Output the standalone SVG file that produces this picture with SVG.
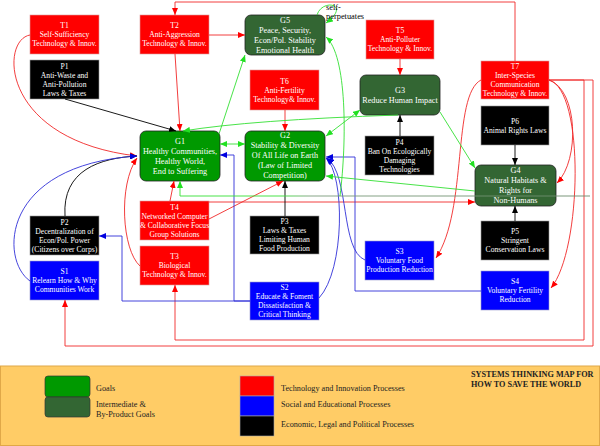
<svg xmlns="http://www.w3.org/2000/svg" width="600" height="446" viewBox="0 0 600 446">
<style>
.n text{font-family:"Liberation Serif","Times New Roman",serif;font-size:7.6px;fill:#fff;text-anchor:middle}
.g text{font-size:8.2px}
.red{fill:#FF0000;stroke:#d99;stroke-width:0.6}
.blk{fill:#000;stroke:#999;stroke-width:0.6}
.blu{fill:#0000FF;stroke:#99c;stroke-width:0.6}
.gr{fill:#009900;stroke:#222;stroke-width:0.8}
.dg{fill:#336633;stroke:#222;stroke-width:0.8}
#conn path{fill:none;stroke-width:0.9}
.cr{stroke:#F02828;marker-end:url(#mr)}
.cb{stroke:#3030D8;marker-end:url(#mb)}
.ck{stroke:#000;marker-end:url(#mk)}
.cg{stroke:#33E033;marker-end:url(#mg)}
.lt{font-family:"Liberation Serif","Times New Roman",serif;font-size:8.2px;fill:#222}
</style>
<defs>
<marker id="mr" viewBox="0 0 7 6" refX="7" refY="3" markerWidth="7" markerHeight="6" markerUnits="userSpaceOnUse" orient="auto-start-reverse"><path d="M0,0 L7,3 L0,6 z" fill="#F00"/></marker>
<marker id="mb" viewBox="0 0 7 6" refX="7" refY="3" markerWidth="7" markerHeight="6" markerUnits="userSpaceOnUse" orient="auto-start-reverse"><path d="M0,0 L7,3 L0,6 z" fill="#0000E0"/></marker>
<marker id="mk" viewBox="0 0 7 6" refX="7" refY="3" markerWidth="7" markerHeight="6" markerUnits="userSpaceOnUse" orient="auto-start-reverse"><path d="M0,0 L7,3 L0,6 z" fill="#000"/></marker>
<marker id="mg" viewBox="0 0 7 6" refX="7" refY="3" markerWidth="7" markerHeight="6" markerUnits="userSpaceOnUse" orient="auto-start-reverse"><path d="M0,0 L7,3 L0,6 z" fill="#22E022"/></marker>
<linearGradient id="gline" gradientUnits="userSpaceOnUse" x1="180" y1="0" x2="590" y2="0">
<stop offset="0" stop-color="#33E033"/><stop offset="0.25" stop-color="#33E033"/><stop offset="0.32" stop-color="#7A9A7A"/><stop offset="1" stop-color="#6A8A6A"/>
</linearGradient>
</defs>
<rect width="600" height="446" fill="#fff"/>

<g id="T1" class="n"><rect class="red" x="30" y="15" width="69" height="39"/><text x="64.5" y="28.2">T1</text><text x="64.5" y="37.2">Self-Sufficiency</text><text x="64.5" y="46.2">Technology &amp; Innov.</text></g>
<g id="P1" class="n"><rect class="blk" x="30" y="60" width="69" height="39"/><text x="64.5" y="68.7">P1</text><text x="64.5" y="77.7">Anti-Waste and</text><text x="64.5" y="86.7">Anti-Pollution</text><text x="64.5" y="95.7">Laws &amp; Taxes</text></g>
<g id="T2" class="n"><rect class="red" x="140" y="15" width="69" height="39"/><text x="174.5" y="28.2">T2</text><text x="174.5" y="37.2">Anti-Aggression</text><text x="174.5" y="46.2">Technology &amp; Innov.</text></g>
<g id="G5" class="n g"><rect class="dg" x="245" y="15" width="80" height="40" rx="6"/><text x="285" y="22.8">G5</text><text x="285" y="32.8">Peace, Security,</text><text x="285" y="42.8">Econ/Pol. Stability</text><text x="285" y="52.8">Emotional Health</text></g>
<g id="T5" class="n"><rect class="red" x="366" y="20" width="68" height="39"/><text x="400" y="33.2">T5</text><text x="400" y="42.2">Anti-Polluter</text><text x="400" y="51.2">Technology &amp; Innov.</text></g>
<g id="T6" class="n"><rect class="red" x="250" y="70" width="69" height="40"/><text x="284.5" y="83.7">T6</text><text x="284.5" y="92.7">Anti-Fertility</text><text x="284.5" y="101.7">Technology&amp; Innov.</text></g>
<g id="G3" class="n g"><rect class="dg" x="360" y="75" width="80" height="40" rx="6"/><text x="400" y="92.8">G3</text><text x="400" y="102.8">Reduce Human Impact</text></g>
<g id="T7" class="n"><rect class="red" x="481" y="61" width="68" height="38"/><text x="515" y="69.2">T7</text><text x="515" y="78.2">Inter-Species</text><text x="515" y="87.2">Communication</text><text x="515" y="96.2">Technology &amp; Innov.</text></g>
<g id="P6" class="n"><rect class="blk" x="481" y="106" width="68" height="39"/><text x="515" y="123.7">P6</text><text x="515" y="132.7">Animal Rights Laws</text></g>
<g id="P4" class="n"><rect class="blk" x="365" y="136" width="69" height="39"/><text x="399.5" y="144.7">P4</text><text x="399.5" y="153.7">Ban On Ecologically</text><text x="399.5" y="162.7">Damaging</text><text x="399.5" y="171.7">Technologies</text></g>
<g id="G1" class="n g"><rect class="gr" x="140" y="131" width="80" height="50" rx="6"/><text x="180" y="143.8">G1</text><text x="180" y="153.8">Healthy Communities,</text><text x="180" y="163.8">Healthy World,</text><text x="180" y="173.8">End to Suffering</text></g>
<g id="G2" class="n g"><rect class="gr" x="245" y="131" width="80" height="50" rx="6"/><text x="285" y="137.8">G2</text><text x="285" y="147.8">Stability &amp; Diversity</text><text x="285" y="157.8">Of All Life on Earth</text><text x="285" y="167.8">(Law of Limited</text><text x="285" y="177.8">Competition)</text></g>
<g id="G4" class="n g"><rect class="dg" x="475" y="165" width="81" height="41" rx="6"/><text x="515.5" y="173.3">G4</text><text x="515.5" y="183.3">Natural Habitats &amp;</text><text x="515.5" y="193.3">Rights for</text><text x="515.5" y="203.3">Non-Humans</text></g>
<g id="P5" class="n"><rect class="blk" x="481" y="221" width="68" height="39"/><text x="515" y="234.2">P5</text><text x="515" y="243.2">Stringent</text><text x="515" y="252.2">Conservation Laws</text></g>
<g id="S4" class="n"><rect class="blu" x="481" y="271" width="68" height="39"/><text x="515" y="284.2">S4</text><text x="515" y="293.2">Voluntary Fertility</text><text x="515" y="302.2">Reduction</text></g>
<g id="S3" class="n"><rect class="blu" x="365" y="241" width="69" height="39"/><text x="399.5" y="254.2">S3</text><text x="399.5" y="263.2">Voluntary Food</text><text x="399.5" y="272.2">Production Reduction</text></g>
<g id="P3" class="n"><rect class="blk" x="250" y="216" width="69" height="38"/><text x="284.5" y="224.2">P3</text><text x="284.5" y="233.2">Laws &amp; Taxes</text><text x="284.5" y="242.2">Limiting Human</text><text x="284.5" y="251.2">Food Production</text></g>
<g id="S2" class="n"><rect class="blu" x="250" y="282" width="69" height="38"/><text x="284.5" y="290.2">S2</text><text x="284.5" y="299.2">Educate &amp; Foment</text><text x="284.5" y="308.2">Dissatisfaction &amp;</text><text x="284.5" y="317.2">Critical Thinking</text></g>
<g id="T4" class="n"><rect class="red" x="140" y="201" width="69" height="39"/><text x="174.5" y="209.7">T4</text><text x="174.5" y="218.7">Networked Computer</text><text x="174.5" y="227.7">&amp; Collaborative Focus</text><text x="174.5" y="236.7">Group Solutions</text></g>
<g id="T3" class="n"><rect class="red" x="140" y="246" width="69" height="39"/><text x="174.5" y="259.2">T3</text><text x="174.5" y="268.2">Biological</text><text x="174.5" y="277.2">Technology &amp; Innov.</text></g>
<g id="P2" class="n"><rect class="blk" x="30" y="216" width="69" height="39"/><text x="64.5" y="224.7">P2</text><text x="64.5" y="233.7">Decentralization of</text><text x="64.5" y="242.7">Econ/Pol. Power</text><text x="64.5" y="251.7">(Citizens over Corps)</text></g>
<g id="S1" class="n"><rect class="blu" x="30" y="261" width="69" height="39"/><text x="64.5" y="274.2">S1</text><text x="64.5" y="283.2">Relearn How &amp; Why</text><text x="64.5" y="292.2">Communities Work</text></g>

<g id="conn">
<path class="cr" d="M515,61 V2 H175 V15"/>
<path class="cr" d="M209,35 H245"/>
<path class="cr" d="M175,54 L180,131"/>
<path class="cr" d="M30,35 C0,40 0,140 137,156"/>
<path class="cr" d="M400,59 V75"/>
<path class="cr" d="M285,110 V131"/>
<path class="cr" d="M170,201 L174,181"/>
<path class="cr" d="M209,219 L283,181"/>
<path class="cr" d="M209,202 H475"/>
<path class="cr" d="M140,266 C122,250 118,185 137,158"/>
<path class="cr" d="M549,80 H584 V340 H175 V285"/>
<path class="cr" d="M549,80 H593 V346 H65 V300"/>
<path class="cr" d="M549,80 C578,90 580,160 557,183"/>
<path class="cr" d="M549,80 C585,90 582,250 551,288"/>
<path class="cr" d="M481,80 C452,95 468,210 436,258"/>
<path class="ck" d="M65,99 L176,131"/>
<path class="ck" d="M65,216 C62,170 100,158 137,156"/>
<path class="ck" d="M285,216 V181"/>
<path class="ck" d="M400,136 V115"/>
<path class="ck" d="M515,145 V165"/>
<path class="ck" d="M515,221 V206"/>
<path class="cb" d="M30,281 C0,260 0,165 137,156"/>
<path class="cb" d="M250,301 H122 V236 H99"/>
<path class="cb" d="M250,301 H234 V155 H220"/>
<path class="cb" d="M319,298 C345,270 345,175 326,158"/>
<path class="cb" d="M365,260 C340,250 350,175 327,158"/>
<path class="cb" d="M481,291 H355 V157 H326"/>
<path class="cg" d="M220,144 H245" marker-start="url(#mg)"/>
<path class="cg" d="M219,134 L245,55"/>
<path class="cg" d="M326,136 L360,110" marker-start="url(#mg)"/>
<path class="cg" d="M440,112 L475,168"/>
<path class="cg" d="M475,191 L326,176"/>
<path class="cg" d="M398,115 Q250,120 183,131"/>
<path class="cg" d="M590,196 H180 V181" style="stroke:url(#gline)"/>
<path class="cg" d="M340,196 C347,140 347,55 326,37"/>
<path class="cg" d="M317,15 C322,-2 352,4 326,23"/>
</g>
<text x="326" y="10" style="font-family:'Liberation Serif',serif;font-size:8.4px;fill:#000">self-</text>
<text x="326" y="19" style="font-family:'Liberation Serif',serif;font-size:8.4px;fill:#000">perpetuates</text>

<g id="legend">
<rect x="0.5" y="366" width="599" height="79.5" fill="#FFCC66" stroke="#E0A848"/>
<rect x="45" y="376" width="45" height="21" rx="3" fill="#009900" stroke="#333" stroke-width="0.7"/>
<rect x="45" y="397" width="45" height="20" rx="3" fill="#336633" stroke="#333" stroke-width="0.7"/>
<text class="lt" x="96" y="391">Goals</text>
<text class="lt" x="96" y="407">Intermediate &amp;</text>
<text class="lt" x="96" y="417">By-Product Goals</text>
<rect x="240" y="376" width="34" height="20" fill="#FF0000" stroke="#aaa" stroke-width="0.6"/>
<rect x="240" y="396" width="34" height="20" fill="#0000FF" stroke="#aaa" stroke-width="0.6"/>
<rect x="240" y="416" width="34" height="20" fill="#000" stroke="#aaa" stroke-width="0.6"/>
<text class="lt" x="281" y="391">Technology and Innovation Processes</text>
<text class="lt" x="281" y="407">Social and Educational Processes</text>
<text class="lt" x="281" y="427">Economic, Legal and Political Processes</text>
<text class="lt" x="471" y="377" style="font-weight:bold">SYSTEMS THINKING MAP FOR</text>
<text class="lt" x="471" y="387" style="font-weight:bold">HOW TO SAVE THE WORLD</text>
</g>
</svg>
